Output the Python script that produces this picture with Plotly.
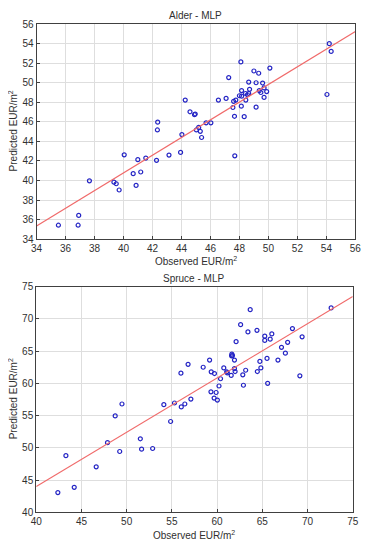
import plotly.graph_objects as go

# ---- Alder - MLP ----
alder_obs = [54.2, 54.33, 48.1, 49.0, 50.1, 49.6, 54.04, 47.26, 49.33, 48.64, 49.15, 48.15, 48.7,
             49.7, 49.88, 49.48, 49.37, 48.42, 48.64, 48.0, 48.15, 48.55, 48.44, 47.75, 47.6, 47.08,
             46.55, 49.7, 48.13, 47.55, 49.15, 47.66, 48.33, 44.26, 44.59, 44.9, 44.95, 42.36, 42.34,
             45.7, 46.03, 45.19, 45.03, 45.3, 44.03, 45.39,
             47.68, 43.94, 43.14, 42.28, 41.54, 40.99, 40.05, 40.67, 41.19, 40.87, 39.34, 39.5, 39.7,
             37.65, 36.91, 36.87, 35.51]
alder_pred = [54.0, 53.2, 52.13, 51.2, 51.5, 49.97, 48.8, 50.53, 50.97, 50.07, 50.0, 49.2, 49.33,
              49.47, 49.1, 49.0, 49.2, 48.9, 48.9, 48.67, 48.63, 48.77, 48.23, 48.23, 48.1, 48.4,
              48.23, 48.5, 47.6, 47.47, 47.5, 46.57, 46.53, 48.23, 47.03, 46.73, 46.8, 45.97, 45.17,
              45.9, 45.9, 45.43, 45.17, 45.03, 44.7, 44.4,
              42.53, 42.87, 42.6, 42.07, 42.3, 42.13, 42.63, 40.7, 40.87, 39.5, 39.83, 39.67, 39.03,
              39.97, 36.43, 35.43, 35.43]
alder_fit_x = [34, 56]
alder_fit_y = [35.35, 55.25]
alder_ticks = [34, 36, 38, 40, 42, 44, 46, 48, 50, 52, 54, 56]

# ---- Spruce - MLP ----
spruce_obs = [72.61, 63.66, 62.6, 63.41, 64.41, 68.33, 69.4, 65.27, 66.05, 65.87, 65.27, 62.1, 67.8,
              67.12, 67.55, 66.73, 65.52, 64.73, 61.63, 61.7, 61.6, 61.92, 59.17, 56.79, 58.46, 60.74,
              64.84, 61.92, 61.06, 61.13, 63.16, 61.99, 64.45, 59.35, 59.71, 56.0, 61.56, 62.84, 69.15,
              60.38, 60.21, 62.91, 65.59, 59.32, 59.89, 59.67, 60.03, 57.1, 56.43, 56.04, 55.29, 54.11,
              49.48, 48.73, 54.86, 47.88, 51.51, 51.65, 52.87, 49.23, 43.28, 46.63, 44.2, 42.39]
spruce_pred = [71.68, 71.42, 69.09, 67.97, 68.22, 68.48, 67.21, 67.31, 67.66, 66.85, 66.65, 66.45, 66.35,
               65.58, 64.67, 63.6, 63.86, 63.4, 64.52, 64.3, 64.26, 63.6, 63.6, 62.94, 62.49, 62.39,
               62.39, 62.28, 61.78, 61.62, 62.03, 61.83, 61.83, 61.78, 61.52, 61.57, 61.22, 61.32, 61.17,
               60.71, 59.59, 59.7, 60.0, 58.68, 58.58, 57.72, 57.41, 57.56, 56.8, 56.35, 56.95, 56.7,
               56.8, 54.95, 54.09, 50.81, 51.41, 49.8, 49.9, 49.44, 48.79, 47.07, 43.89, 43.08]
spruce_fit_x = [40, 75]
spruce_fit_y = [44.0, 73.45]
spruce_xticks = [40, 45, 50, 55, 60, 65, 70, 75]
spruce_yticks = [40, 45, 50, 55, 60, 65, 70, 75]

# The page body has an 8px default margin, so the figure starts at (8, 8) in the window.
OFF = 8
W, H = 372 - OFF, 550 - OFF
FONT = "Liberation Sans, Arial, sans-serif"
MARK = "#2424c4"
LINE = "#f06a6a"
GRID = "#dedede"
FRAME = "#404040"

def px(x):
    return (x - OFF) / W

def py(y):
    return 1 - (y - OFF) / H

fig = go.Figure()

marker = dict(symbol="circle-open", size=4, color=MARK, line=dict(width=1.2, color=MARK))

fig.add_trace(go.Scatter(x=alder_obs, y=alder_pred, mode="markers", marker=marker,
                         xaxis="x", yaxis="y", showlegend=False))
fig.add_trace(go.Scatter(x=alder_fit_x, y=alder_fit_y, mode="lines",
                         line=dict(color=LINE, width=1.2), xaxis="x", yaxis="y", showlegend=False))
fig.add_trace(go.Scatter(x=spruce_obs, y=spruce_pred, mode="markers", marker=marker,
                         xaxis="x2", yaxis="y2", showlegend=False))
fig.add_trace(go.Scatter(x=spruce_fit_x, y=spruce_fit_y, mode="lines",
                         line=dict(color=LINE, width=1.2), xaxis="x2", yaxis="y2", showlegend=False))

ax_common = dict(showgrid=True, gridcolor=GRID, gridwidth=1, zeroline=False,
                 showline=True, linecolor=FRAME, linewidth=1, mirror=True,
                 ticks="inside", ticklen=3, tickcolor=FRAME,
                 tickfont=dict(family=FONT, size=10, color="#303030"))

fig.update_layout(
    width=W, height=H,
    margin=dict(l=0, r=0, t=0, b=0),
    paper_bgcolor="white", plot_bgcolor="white",
    xaxis=dict(domain=[px(31.3), px(361)], range=[34, 56], tickvals=alder_ticks,
               anchor="y", **ax_common),
    yaxis=dict(domain=[py(238.3), py(18.3)], range=[34, 56], tickvals=alder_ticks,
               anchor="x", **ax_common),
    xaxis2=dict(domain=[px(31), px(358.3)], range=[40, 75], tickvals=spruce_xticks,
                anchor="y2", **ax_common),
    yaxis2=dict(domain=[py(517.7), py(286.7)], range=[40, 75], tickvals=spruce_yticks,
                anchor="x2", **ax_common),
)

tf = dict(family=FONT, size=10, color="#303030")
ann = [
    dict(text="Alder - MLP", x=px(196), y=py(10), xanchor="center", yanchor="middle"),
    dict(text="Observed EUR/m<sup>2</sup>", x=px(196), y=py(261), xanchor="center", yanchor="middle"),
    dict(text="Predicted EUR/m<sup>2</sup>", x=px(7), y=py(128), xanchor="center", yanchor="middle",
         textangle=-90),
    dict(text="Spruce - MLP", x=px(194), y=py(278), xanchor="center", yanchor="middle"),
    dict(text="Observed EUR/m<sup>2</sup>", x=px(194), y=py(541), xanchor="center", yanchor="middle"),
    dict(text="Predicted EUR/m<sup>2</sup>", x=px(7), y=py(402), xanchor="center", yanchor="middle",
         textangle=-90),
]
fig.update_layout(annotations=[dict(a, xref="paper", yref="paper", showarrow=False, font=tf) for a in ann])

fig.write_html("out.html")
